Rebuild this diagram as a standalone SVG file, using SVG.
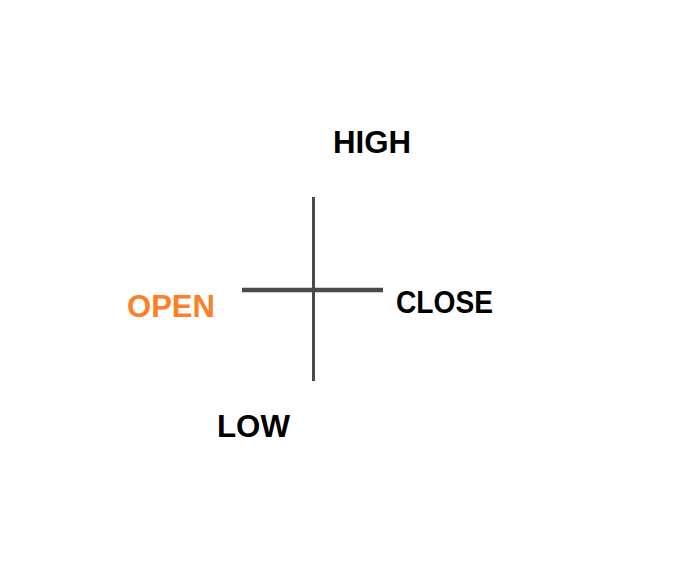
<svg xmlns="http://www.w3.org/2000/svg" width="700" height="579" viewBox="0 0 700 579">
<style>
.lbl{font-family:"Liberation Sans",Arial,sans-serif;font-weight:bold;font-size:31px;fill:#000}
.open{fill:#ff7f27}
.ln{stroke:#4a4a4a;fill:none;stroke-linecap:butt}
</style>
<rect width="700" height="579" fill="#fff"/>
<g id="connectors">
<line class="ln" x1="313.5" y1="197" x2="313.5" y2="381" stroke-width="3"/>
<line class="ln" x1="242" y1="290" x2="383" y2="290" stroke-width="4.5"/>
</g>
<g id="high"><text class="lbl" x="333" y="153" textLength="78" lengthAdjust="spacingAndGlyphs">HIGH</text></g>
<g id="open"><text class="lbl open" x="127" y="317" textLength="88" lengthAdjust="spacingAndGlyphs">OPEN</text></g>
<g id="close"><text class="lbl" x="396" y="313" textLength="97" lengthAdjust="spacingAndGlyphs">CLOSE</text></g>
<g id="low"><text class="lbl" x="217" y="437" textLength="73" lengthAdjust="spacingAndGlyphs">LOW</text></g>
</svg>
